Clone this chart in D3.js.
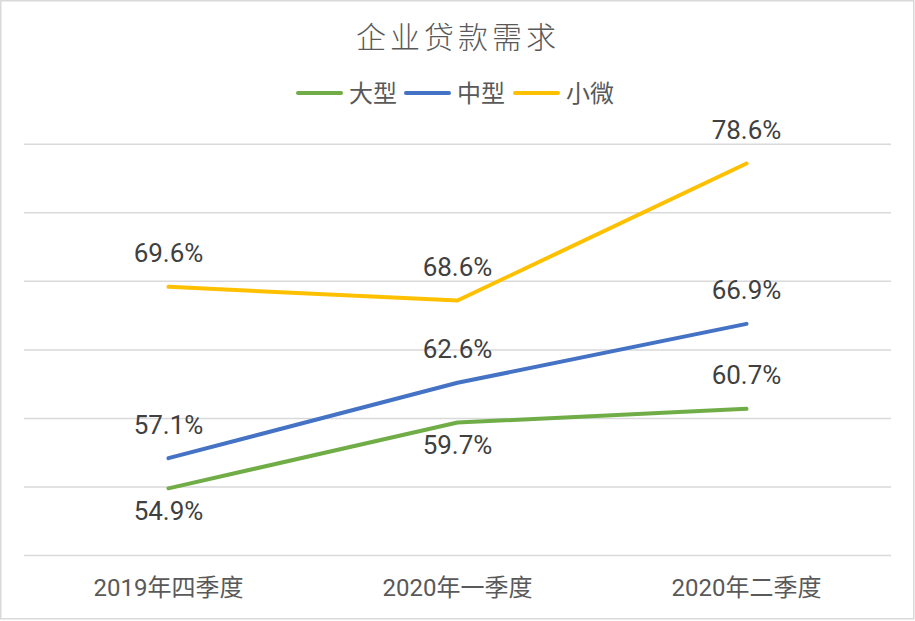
<!DOCTYPE html>
<html><head><meta charset="utf-8">
<script src="https://cdn.jsdelivr.net/npm/d3@7"></script>
<style>body{margin:0;background:#fff}svg{display:block}</style>
</head><body>
<svg id="c" width="915" height="621"></svg>
<script>
const title = "企业贷款需求";
const categories = ["2019年四季度", "2020年一季度", "2020年二季度"];
const seriesNames = ["大型", "中型", "小微"];
const large = [54.9, 59.7, 60.7];
const medium = [57.1, 62.6, 66.9];
const small = [69.6, 68.6, 78.6];
const yTicks = [50, 55, 60, 65, 70, 75, 80];
const colors = ["#70AD47", "#4472C4", "#FFC000"];
// label placement: 1 = above, -1 = below
const largePos = [-1, -1, 1];
const mediumPos = [1, 1, 1];
const smallPos = [1, 1, 1];

const series = [
  {name: seriesNames[0], values: large, pos: largePos, color: colors[0]},
  {name: seriesNames[1], values: medium, pos: mediumPos, color: colors[1]},
  {name: seriesNames[2], values: small, pos: smallPos, color: colors[2]}
];

const svg = d3.select("#c");
svg.append("rect").attr("x", 0.75).attr("y", 0.75).attr("width", 913).attr("height", 618)
  .attr("fill", "#fff").attr("stroke", "#d9d9d9").attr("stroke-width", 1.5);

const x = d3.scaleBand().domain(categories).range([24, 891]);
const y = d3.scaleLinear().domain([50, 80]).range([555.5, 144.3]);

const font = "Roboto, 'Noto Sans CJK SC', sans-serif";

// gridlines
svg.append("g").selectAll("line").data(yTicks).join("line")
  .attr("x1", 24).attr("x2", 891)
  .attr("y1", d => y(d)).attr("y2", d => y(d))
  .attr("stroke", "#d9d9d9").attr("stroke-width", 1.5);

// x axis labels
const xAxis = d3.axisBottom(x).tickSize(0).tickPadding(0);
const gx = svg.append("g").attr("transform", "translate(0,587)").call(xAxis);
gx.select(".domain").remove();
gx.selectAll("text").attr("font-family", font).attr("font-size", 24)
  .attr("fill", "#595959").attr("dy", "0.36em");

// lines
const line = d3.line().x((d, i) => x(categories[i]) + x.bandwidth() / 2).y(d => y(d));
svg.append("g").selectAll("path").data(series).join("path")
  .attr("d", d => line(d.values)).attr("fill", "none")
  .attr("stroke", d => d.color).attr("stroke-width", 4)
  .attr("stroke-linecap", "round").attr("stroke-linejoin", "round");

// data labels
series.forEach(s => {
  svg.append("g").selectAll("text").data(s.values).join("text")
    .attr("x", (d, i) => x(categories[i]) + x.bandwidth() / 2)
    .attr("y", (d, i) => y(d) + (s.pos[i] > 0 ? -34 : 22))
    .attr("dy", "0.36em").attr("text-anchor", "middle")
    .attr("font-family", font).attr("font-size", 26).attr("fill", "#404040")
    .text(d => d.toFixed(1) + "%");
});

// title
svg.append("text").attr("x", 458).attr("y", 37).attr("dy", "0.36em")
  .attr("text-anchor", "middle").attr("font-family", "'Noto Sans CJK SC', sans-serif")
  .attr("font-weight", 300).attr("font-size", 30).attr("letter-spacing", 4)
  .attr("fill", "#595959").text(title);

// legend
const legendX = [297, 405, 514];
const lg = svg.append("g").selectAll("g").data(series).join("g")
  .attr("transform", (d, i) => `translate(${legendX[i]},93)`);
lg.append("line").attr("x1", 1).attr("x2", 44).attr("stroke", d => d.color)
  .attr("stroke-width", 4).attr("stroke-linecap", "round");
lg.append("text").attr("x", 52).attr("dy", "0.36em")
  .attr("font-family", font).attr("font-size", 24).attr("fill", "#595959")
  .text(d => d.name);
</script>
</body></html>
